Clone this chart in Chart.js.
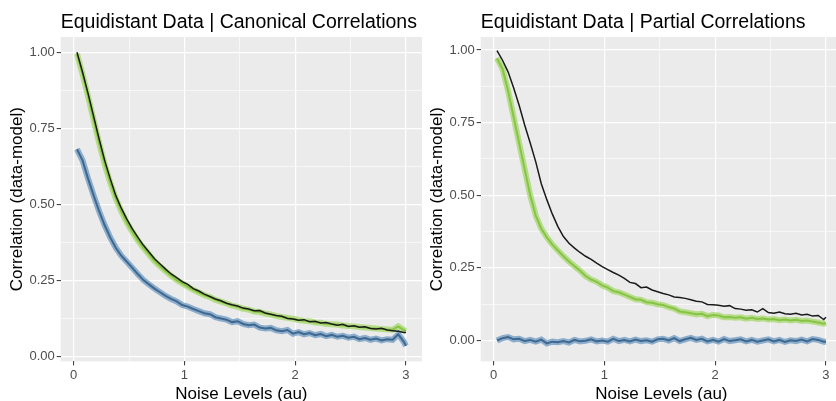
<!DOCTYPE html>
<html>
<head>
<meta charset="utf-8">
<script src="https://cdn.jsdelivr.net/npm/chart.js@4.4.1/dist/chart.umd.min.js"></script>
<style>
  html, body { margin: 0; padding: 0; background: #fff; overflow: hidden; width: 836px; height: 401px; }
  .panel { position: absolute; top: 0; width: 430px; height: 403px; }
  #canonical { left: 0; }
  #partial { left: 420px; }
</style>
</head>
<body>
<div class="panel" id="canonical"><canvas id="canonicalChart" width="430" height="403"></canvas></div>
<div class="panel" id="partial"><canvas id="partialChart" width="430" height="403"></canvas></div>
<script>
const noiseLevels = [
    0.03, 0.08, 0.13, 0.18, 0.23, 0.28, 0.33, 0.38, 0.43, 0.48,
    0.53, 0.58, 0.63, 0.68, 0.73, 0.78, 0.83, 0.88, 0.93, 0.98,
    1.03, 1.08, 1.13, 1.18, 1.23, 1.28, 1.33, 1.38, 1.43, 1.48,
    1.53, 1.58, 1.63, 1.68, 1.73, 1.78, 1.83, 1.88, 1.93, 1.98,
    2.03, 2.08, 2.13, 2.18, 2.23, 2.28, 2.33, 2.38, 2.43, 2.48,
    2.53, 2.58, 2.63, 2.68, 2.73, 2.78, 2.83, 2.88, 2.93, 2.98,
    3.00
];

// canonical correlations panel
const canonicalBlack = [
    1.000, 0.935, 0.865, 0.790, 0.715, 0.645, 0.585, 0.530, 0.488, 0.452,
    0.420, 0.392, 0.366, 0.344, 0.322, 0.305, 0.288, 0.272, 0.260, 0.247,
    0.238, 0.224, 0.216, 0.206, 0.198, 0.190, 0.184, 0.176, 0.171, 0.167,
    0.160, 0.157, 0.151, 0.152, 0.144, 0.140, 0.136, 0.133, 0.126, 0.124,
    0.120, 0.122, 0.115, 0.117, 0.111, 0.113, 0.108, 0.104, 0.107, 0.100,
    0.102, 0.097, 0.099, 0.093, 0.091, 0.094, 0.088, 0.086, 0.084, 0.080,
    0.080
];
const canonicalGreen = [
    0.995, 0.928, 0.855, 0.778, 0.702, 0.632, 0.572, 0.520, 0.478, 0.441,
    0.410, 0.382, 0.358, 0.336, 0.314, 0.297, 0.281, 0.266, 0.252, 0.241,
    0.230, 0.220, 0.211, 0.202, 0.196, 0.187, 0.181, 0.175, 0.168, 0.164,
    0.158, 0.155, 0.149, 0.147, 0.142, 0.139, 0.134, 0.131, 0.128, 0.125,
    0.121, 0.118, 0.117, 0.113, 0.112, 0.108, 0.107, 0.106, 0.103, 0.101,
    0.100, 0.098, 0.096, 0.095, 0.093, 0.091, 0.090, 0.089, 0.100, 0.088,
    0.085
];
const canonicalBlue = [
    0.682, 0.645, 0.585, 0.530, 0.478, 0.432, 0.392, 0.358, 0.332, 0.312,
    0.292, 0.271, 0.252, 0.238, 0.224, 0.212, 0.200, 0.190, 0.182, 0.170,
    0.165, 0.157, 0.150, 0.143, 0.140, 0.130, 0.126, 0.122, 0.114, 0.117,
    0.108, 0.104, 0.106, 0.096, 0.093, 0.095, 0.087, 0.084, 0.088, 0.076,
    0.081, 0.074, 0.078, 0.071, 0.075, 0.068, 0.072, 0.066, 0.069, 0.063,
    0.066, 0.058, 0.062, 0.056, 0.060, 0.054, 0.058, 0.056, 0.074, 0.050,
    0.036
];

// partial correlations panel
const partialBlack = [
    0.998, 0.965, 0.925, 0.870, 0.810, 0.742, 0.680, 0.615, 0.540, 0.485,
    0.435, 0.392, 0.358, 0.335, 0.318, 0.303, 0.290, 0.279, 0.266, 0.254,
    0.244, 0.234, 0.225, 0.214, 0.200, 0.196, 0.182, 0.184, 0.174, 0.168,
    0.162, 0.157, 0.150, 0.148, 0.145, 0.140, 0.135, 0.133, 0.124, 0.123,
    0.121, 0.118, 0.120, 0.110, 0.108, 0.104, 0.106, 0.098, 0.110, 0.096,
    0.094, 0.098, 0.092, 0.090, 0.094, 0.088, 0.090, 0.084, 0.086, 0.072,
    0.080
];
const partialGreen = [
    0.972, 0.935, 0.860, 0.770, 0.680, 0.590, 0.500, 0.430, 0.385, 0.355,
    0.330, 0.310, 0.290, 0.272, 0.256, 0.240, 0.222, 0.210, 0.202, 0.190,
    0.182, 0.170, 0.166, 0.158, 0.150, 0.142, 0.140, 0.132, 0.130, 0.125,
    0.122, 0.115, 0.110, 0.100, 0.097, 0.094, 0.090, 0.092, 0.084, 0.088,
    0.086, 0.080, 0.081, 0.078, 0.080, 0.075, 0.078, 0.074, 0.076, 0.072,
    0.074, 0.070, 0.072, 0.069, 0.071, 0.067, 0.069, 0.065, 0.062, 0.058,
    0.060
];
const partialBlue = [
    0.000, 0.008, 0.012, 0.004, 0.006, -0.002, 0.002, -0.004, 0.003, -0.010,
    -0.004, -0.006, -0.002, -0.007, 0.002, -0.003, -0.001, 0.004, -0.003, 0.000,
    -0.004, 0.006, -0.002, 0.002, -0.003, 0.003, -0.002, 0.001, -0.004, 0.004,
    0.006, 0.000, 0.008, -0.002, 0.004, 0.009, 0.002, 0.006, -0.003, 0.002,
    -0.004, 0.005, -0.002, 0.001, 0.004, -0.003, 0.002, -0.004, 0.000, 0.004,
    -0.003, 0.002, -0.005, 0.001, -0.002, 0.003, -0.003, 0.005, 0.002, -0.004,
    -0.004
];

const xTicks = [0, 0.5, 1, 1.5, 2, 2.5, 3];
const yTicks = [0, 0.125, 0.25, 0.375, 0.5, 0.625, 0.75, 0.875, 1];

const FONT = '"Liberation Sans", Arial, sans-serif';
const GREEN_LINE = 'rgb(135, 196, 70)';
const GREEN_BAND = 'rgba(165, 216, 108, 0.75)';
const BLUE_LINE = 'rgb(62, 104, 142)';
const BLUE_BAND = 'rgba(118, 158, 196, 0.8)';

const panelBg = {
    id: 'panelBg',
    beforeDraw(chart) {
        const { ctx, chartArea } = chart;
        ctx.save();
        ctx.fillStyle = '#EBEBEB';
        ctx.fillRect(chartArea.left, chartArea.top, chartArea.width, chartArea.height);
        ctx.restore();
    }
};

function toPoints(values) {
    return values.map((v, i) => ({ x: noiseLevels[i], y: v }));
}

function isMajor(value, step) {
    return Math.abs(value / step - Math.round(value / step)) < 1e-6;
}

function lineSet(values, color, width, order) {
    return {
        data: toPoints(values),
        borderColor: color,
        borderWidth: width,
        pointRadius: 0,
        tension: 0,
        fill: false,
        order: order
    };
}

function makePanel(canvasId, titleText, yMin, yMax, black, green, blue) {
    const ctx = document.getElementById(canvasId).getContext('2d');
    return new Chart(ctx, {
        type: 'line',
        data: {
            datasets: [
                lineSet(black, '#1a1a1a', 1.5, 1),
                lineSet(green, GREEN_LINE, 2, 2),
                lineSet(blue, BLUE_LINE, 2, 3),
                lineSet(green, GREEN_BAND, 6, 4),
                lineSet(blue, BLUE_BAND, 6, 5)
            ]
        },
        options: {
            responsive: false,
            animation: false,
            devicePixelRatio: 1,
            layout: { padding: { left: 0, right: 8, top: 0, bottom: 0 } },
            plugins: {
                legend: { display: false },
                tooltip: { enabled: false },
                title: {
                    display: true,
                    text: titleText,
                    align: 'start',
                    fullSize: false,
                    color: '#000',
                    font: { family: FONT, size: 19.5, weight: 'normal', lineHeight: 1.0 },
                    padding: { top: 12.5, bottom: 5 }
                }
            },
            scales: {
                x: {
                    type: 'linear',
                    min: -0.117,
                    max: 3.145,
                    afterBuildTicks: scale => { scale.ticks = xTicks.map(v => ({ value: v })); },
                    border: { display: false },
                    grid: {
                        color: '#fff',
                        lineWidth: c => isMajor(c.tick.value, 1) ? 1.2 : 0.6,
                        tickColor: c => isMajor(c.tick.value, 1) ? '#333' : 'rgba(0,0,0,0)',
                        tickLength: 4,
                        tickWidth: 1
                    },
                    ticks: {
                        autoSkip: false,
                        maxRotation: 0,
                        padding: 2,
                        color: '#4D4D4D',
                        font: { family: FONT, size: 13 },
                        callback: v => isMajor(v, 1) ? String(v) : ''
                    },
                    title: {
                        display: true,
                        text: 'Noise Levels (au)',
                        color: '#000',
                        font: { family: FONT, size: 17, lineHeight: 1.0 },
                        padding: { top: 1, bottom: 0 }
                    }
                },
                y: {
                    type: 'linear',
                    min: yMin,
                    max: yMax,
                    afterBuildTicks: scale => { scale.ticks = yTicks.map(v => ({ value: v })); },
                    border: { display: false },
                    grid: {
                        color: '#fff',
                        lineWidth: c => isMajor(c.tick.value, 0.25) ? 1.2 : 0.6,
                        tickColor: c => isMajor(c.tick.value, 0.25) ? '#333' : 'rgba(0,0,0,0)',
                        tickLength: 4,
                        tickWidth: 1
                    },
                    ticks: {
                        autoSkip: false,
                        padding: 2,
                        color: '#4D4D4D',
                        font: { family: FONT, size: 13 },
                        callback: v => isMajor(v, 0.25) ? v.toFixed(2) : ''
                    },
                    title: {
                        display: true,
                        text: 'Correlation (data-model)',
                        color: '#000',
                        font: { family: FONT, size: 17, lineHeight: 1.2 },
                        padding: { top: 7, bottom: 0 }
                    }
                }
            }
        },
        plugins: [panelBg]
    });
}

makePanel('canonicalChart', 'Equidistant Data | Canonical Correlations', -0.015, 1.05,
    canonicalBlack, canonicalGreen, canonicalBlue);
makePanel('partialChart', 'Equidistant Data | Partial Correlations', -0.072, 1.045,
    partialBlack, partialGreen, partialBlue);
</script>
</body>
</html>
